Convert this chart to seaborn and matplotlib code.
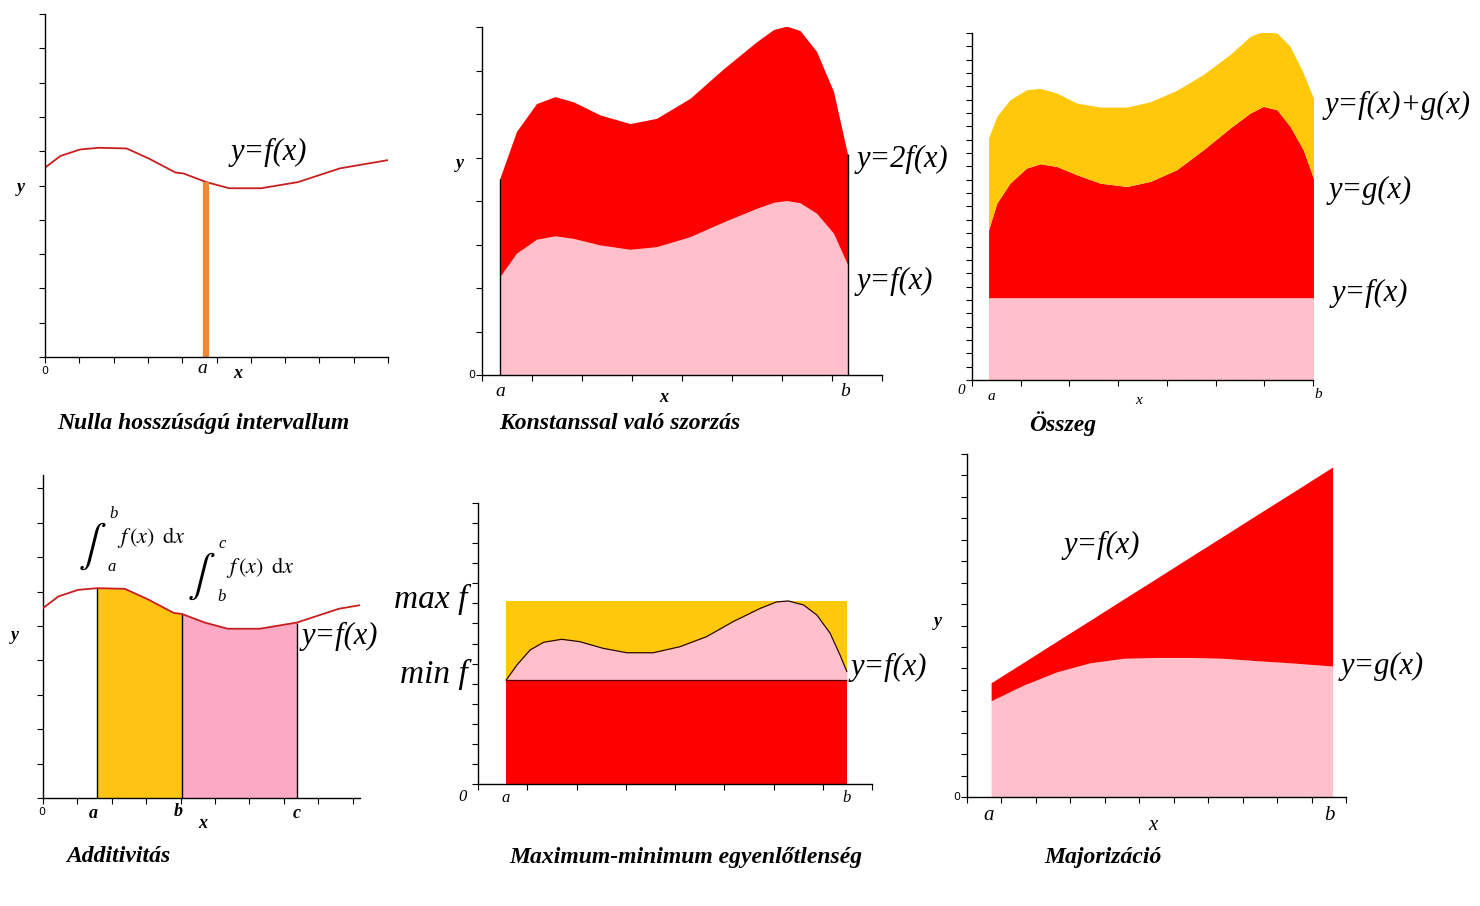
import numpy as np
import matplotlib
matplotlib.use("Agg")
import matplotlib.pyplot as plt
import seaborn as sns

W, H = 1480, 906

# --- data (in tick units of each panel) ---
# wavy f(x) of "Nulla hosszúságú intervallum" and "Additivitás"
wave_x = [0, 0.45, 1.02, 1.57, 2.38, 3.04, 3.8, 4.04, 4.7, 5.37, 6.3, 7.38, 8.6, 10]
wave_y = [5.52, 5.86, 6.05, 6.1, 6.08, 5.78, 5.38, 5.35, 5.1, 4.92, 4.92, 5.1, 5.5, 5.74]
nulla_a = 4.7
add_a, add_b, add_c = 1.57, 4.04, 7.38

# "Konstanssal való szorzás": f and c*f
konst_x = [0.35, 0.69, 1.09, 1.46, 1.83, 2.36, 2.96, 3.49, 4.16, 4.83, 5.49, 5.83, 6.09, 6.36, 6.69, 7.03, 7.31]
konst_f = [2.25, 2.80, 3.12, 3.20, 3.14, 2.99, 2.89, 2.95, 3.18, 3.52, 3.83, 3.97, 4.01, 3.96, 3.72, 3.26, 2.54]
konst_c = 2

# "Összeg"
osszeg_x = [0.34, 0.51, 0.78, 1.12, 1.40, 1.74, 2.15, 2.63, 3.18, 3.66, 4.20, 4.75, 5.30, 5.71, 5.98, 6.26, 6.53, 6.80, 7.08]
osszeg_g = [11.25, 13.25, 14.75, 15.88, 16.2, 16.0, 15.38, 14.75, 14.5, 14.88, 15.75, 17.25, 18.88, 20.0, 20.5, 20.25, 19.0, 17.25, 14.38]
osszeg_fg = [18.13, 19.75, 21.0, 21.75, 21.85, 21.5, 20.75, 20.45, 20.45, 20.85, 21.7, 22.9, 24.4, 25.75, 26.13, 26.0, 25.0, 23.0, 20.5]
osszeg_f = 6.17

# "Maximum-minimum egyenlőtlenség"
maxmin_x = [0.57, 0.79, 1.06, 1.33, 1.70, 2.07, 2.54, 3.02, 3.56, 4.10, 4.64, 5.18, 5.73, 6.06, 6.30, 6.61, 6.88, 7.15, 7.35, 7.49]
maxmin_f = [5.17, 5.93, 6.68, 7.06, 7.21, 7.09, 6.76, 6.54, 6.54, 6.84, 7.34, 8.09, 8.75, 9.07, 9.12, 8.92, 8.42, 7.51, 6.43, 5.60]

# "Majorizáció"
major_x = [0.70, 1.64, 2.61, 3.57, 4.54, 5.51, 6.47, 7.44, 8.41, 9.37, 10.61]
major_g = [4.49, 5.22, 5.84, 6.26, 6.47, 6.51, 6.51, 6.47, 6.36, 6.26, 6.11]
major_f = [5.33, 6.28, 7.27, 8.24, 9.23, 10.21, 11.19, 12.17, 13.16, 14.13, 15.39]

RED = '#FF0000'
PINK = '#FFC0CB'
GOLD = '#FFC80A'
YEL4 = '#FDC414'
PINK4 = '#FCA9C6'
ORANGE = '#EE8A37'
CURVE = '#C81E1E'

sns.set_style('ticks')
plt.rcParams['font.family'] = ['Liberation Serif', 'DejaVu Serif']
plt.rcParams['mathtext.fontset'] = 'stix'
plt.rcParams['text.color'] = 'black'

fig = plt.figure(figsize=(W / 100, H / 100), dpi=100)


def panel(x0, y0, x1, y1, xmax, ymax):
    # axes placed by the pixel box of its two axis lines
    ax = fig.add_axes([x0 / W, 1 - y1 / H, (x1 - x0) / W, (y1 - y0) / H])
    ax.set_xlim(0, xmax)
    ax.set_ylim(0, ymax)
    sns.despine(ax=ax)
    ax.set_xticks(np.arange(0, xmax + 1e-6, 1))
    ax.set_yticks(np.arange(0, ymax + 1e-6, 1))
    ax.tick_params(length=4, width=0.8, color='black', labelbottom=False, labelleft=False)
    for s in ('left', 'bottom'):
        ax.spines[s].set_linewidth(1.0)
        ax.spines[s].set_color('black')
    ax.patch.set_alpha(0)
    return ax


def label(px, py, s, size=13, style='italic', weight='normal', ha='center', family=None):
    kw = {}
    if family:
        kw['family'] = family
    fig.text(px / W, 1 - py / H, s, fontsize=size, style=style, weight=weight,
             ha=ha, va='center', **kw)


def title(px, py, s):
    label(px, py, s, size=17, weight='bold')


def integral(px, py, lo, hi):
    # integral sign with limits on its right, then the integrand
    label(px, py + 6, r'$\int$', size=30, style='normal', ha='right')
    label(px + 2, py - 26, hi, size=12, ha='left')
    label(px + 1, py + 27, lo, size=12, ha='left')
    label(px + 10, py - 2, r'$f\,(x)\;\;\mathrm{d}x$', size=16, style='normal', ha='left')


wx = np.array(wave_x)
wy = np.array(wave_y)

# 1 - Nulla hosszúságú intervallum
ax1 = panel(45, 14, 388, 357, 10, 10)
sns.lineplot(x=wave_x, y=wave_y, ax=ax1, color=CURVE, lw=1.3)
ax1.vlines(nulla_a, 0, wy[wx == nulla_a][0], color=ORANGE, lw=4.5)
label(21, 187, 'y', weight='bold')
label(45, 371, '0', size=8, style='normal', family='DejaVu Sans')
label(202, 368, 'a', size=14)
label(238, 373, 'x', weight='bold')
label(269, 152, 'y=f(x)', size=22)
title(203, 424, 'Nulla hosszúságú intervallum')

# 2 - Konstanssal való szorzás
kx = np.array(konst_x)
kf = np.array(konst_f)
ax2 = panel(482, 27, 882, 375, 8, 8)
ax2.fill_between(kx, 0, kf, color=PINK, lw=0)
ax2.fill_between(kx, kf, konst_c * kf, color=RED, lw=0)
ax2.vlines([kx[0], kx[-1]], 0, [konst_c * kf[0], konst_c * kf[-1]], color='black', lw=1)
label(460, 163, 'y', weight='bold')
label(472, 375, '0', size=8, style='normal', family='DejaVu Sans')
label(500, 392, 'a', size=14)
label(664, 397, 'x', weight='bold')
label(845, 391, 'b', size=14)
label(857, 159, 'y=2f(x)', size=22, ha='left')
label(857, 281, 'y=f(x)', size=22, ha='left')
title(620, 424, 'Konstanssal való szorzás')

# 3 - Összeg
ax3 = panel(972, 33, 1313, 380, 7, 26)
ax3.fill_between(osszeg_x, 0, osszeg_f, color=PINK, lw=0)
ax3.fill_between(osszeg_x, osszeg_f, osszeg_g, color=RED, lw=0)
ax3.fill_between(osszeg_x, osszeg_g, osszeg_fg, color=GOLD, lw=0)
label(961, 390, '0', size=11)
label(991, 397, 'a', size=11)
label(1139, 400, 'x', size=11)
label(1318, 395, 'b', size=11)
label(1325, 105, 'y=f(x)+g(x)', size=22, ha='left')
label(1329, 190, 'y=g(x)', size=22, ha='left')
label(1332, 293, 'y=f(x)', size=22, ha='left')
title(1063, 424, 'Összeg')

# 4 - Additivitás
ax4 = panel(43, 475, 360, 798, 317 / 34.4, 323 / 34.4)
m1 = (wx >= add_a) & (wx <= add_b)
m2 = (wx >= add_b) & (wx <= add_c)
ax4.fill_between(wx[m1], 0, wy[m1], color=YEL4, lw=0)
ax4.fill_between(wx[m2], 0, wy[m2], color=PINK4, lw=0)
edges = [add_a, add_b, add_c]
ax4.vlines(edges, 0, [wy[wx == e][0] for e in edges], color='black', lw=1)
sns.lineplot(x=wave_x, y=wave_y, ax=ax4, color=CURVE, lw=1.3, zorder=3)
label(15, 635, 'y', weight='bold')
label(42, 812, '0', size=8, style='normal', family='DejaVu Sans')
label(93, 813, 'a', weight='bold')
label(178, 812, 'b', weight='bold')
label(203, 823, 'x', weight='bold')
label(297, 813, 'c', weight='bold')
integral(107, 540, 'a', 'b')
integral(216, 570, 'b', 'c')
label(302, 636, 'y=f(x)', size=22, ha='left')
title(118, 857, 'Additivitás')

# 5 - Maximum-minimum egyenlőtlenség
mx = np.array(maxmin_x)
mf = np.array(maxmin_f)
fmin, fmax = mf.min(), mf.max()
ax5 = panel(478, 503, 872, 784, 8, 14)
ax5.fill_between([mx[0], mx[-1]], fmin, fmax, color=GOLD, lw=0)
ax5.fill_between(mx, fmin, mf, color=PINK, lw=0)
ax5.fill_between([mx[0], mx[-1]], 0, fmin, color=RED, lw=0)
ax5.hlines(fmin, mx[0], mx[-1], color='#5a0000', lw=0.9)
sns.lineplot(x=maxmin_x, y=maxmin_f, ax=ax5, color='#2a0a0a', lw=0.9)
label(431, 599, 'max f', size=24)
label(434, 674, 'min f', size=24)
label(463, 797, '0', size=12)
label(506, 798, 'a', size=12)
label(847, 798, 'b', size=12)
label(851, 667, 'y=f(x)', size=22, ha='left')
title(686, 857, 'Maximum-minimum egyenlőtlenség')

# 6 - Majorizáció
ax6 = panel(967, 454, 1346, 797, 11, 16)
ax6.fill_between(major_x, 0, major_g, color=PINK, lw=0)
ax6.fill_between(major_x, major_g, major_f, color=RED, lw=0)
label(938, 622, 'y', weight='bold')
label(957, 797, '0', size=8, style='normal', family='DejaVu Sans')
label(989, 816, 'a', size=15)
label(1329, 816, 'b', size=15)
label(1153, 825, 'x', size=15)
label(1102, 545, 'y=f(x)', size=22)
label(1341, 666, 'y=g(x)', size=22, ha='left')
title(1103, 857, 'Majorizáció')

fig.savefig('out.png', dpi=100, facecolor='white')
